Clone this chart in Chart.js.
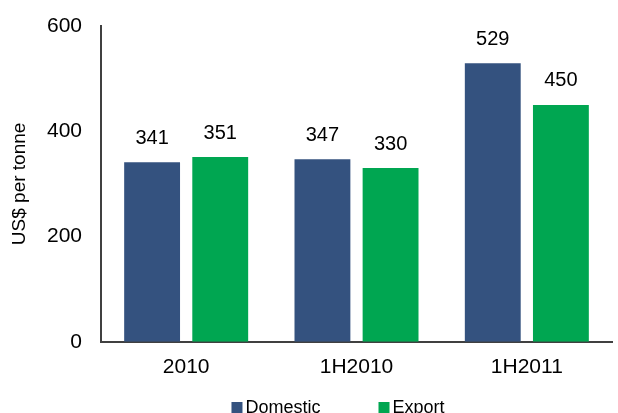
<!DOCTYPE html>
<html>
<head>
<meta charset="utf-8">
<script src="https://cdn.jsdelivr.net/npm/chart.js@4/dist/chart.umd.min.js"></script>
<style>
  html, body { margin: 0; padding: 0; background: #fff; overflow: hidden; }
  #wrap { width: 618px; height: 413px; }
</style>
</head>
<body>
<div id="wrap"><canvas id="precos"></canvas></div>
<script>
// Preço médio do carvão (US$ por tonelada)
const categorias = ['2010', '1H2010', '1H2011'];
const domestico = [341, 347, 529];
const exportacao = [351, 330, 450];
const ticksY = [0, 200, 400, 600];

const fonte = "'Liberation Sans', Arial, sans-serif";
const corEixo = '#404040';

// Rótulos de valor acima das barras
const rotulosValor = {
    id: 'rotulosValor',
    afterDatasetsDraw(chart) {
        const ctx = chart.ctx;
        ctx.save();
        ctx.font = `20px ${fonte}`;
        ctx.fillStyle = '#000';
        ctx.textAlign = 'center';
        ctx.textBaseline = 'middle';
        chart.data.datasets.forEach((ds, i) => {
            chart.getDatasetMeta(i).data.forEach((barra, j) => {
                ctx.fillText(String(ds.data[j]), barra.x, barra.y - 24);
            });
        });
        ctx.restore();
    }
};

// Legenda no rodapé (quadrado + nome da série)
const legendaRodape = {
    id: 'legendaRodape',
    afterDraw(chart) {
        const ctx = chart.ctx;
        const lado = 11, folga = 3, espaco = 58;
        const baseY = chart.height;
        ctx.save();
        ctx.font = `18px ${fonte}`;
        ctx.textBaseline = 'alphabetic';
        ctx.textAlign = 'left';
        const itens = chart.data.datasets.map(ds => ({
            nome: ds.label,
            cor: ds.backgroundColor,
            largura: lado + folga + ctx.measureText(ds.label).width
        }));
        const total = itens.reduce((s, it) => s + it.largura, 0) + espaco * (itens.length - 1);
        let x = 338 - total / 2;
        itens.forEach(it => {
            ctx.fillStyle = it.cor;
            ctx.fillRect(x, baseY - 11, lado, lado);
            ctx.fillStyle = '#000';
            ctx.fillText(it.nome, x + lado + folga, baseY);
            x += it.largura + espaco;
        });
        ctx.restore();
    }
};

new Chart(document.getElementById('precos').getContext('2d'), {
    type: 'bar',
    data: {
        labels: categorias,
        datasets: [
            {
                label: 'Domestic',
                data: domestico,
                backgroundColor: '#34527F',
                categoryPercentage: 0.8,
                barPercentage: 0.82
            },
            {
                label: 'Export',
                data: exportacao,
                backgroundColor: '#00A651',
                categoryPercentage: 0.8,
                barPercentage: 0.82
            }
        ]
    },
    options: {
        responsive: true,
        maintainAspectRatio: false,
        animation: false,
        layout: { padding: { top: 0, right: 6, left: 0, bottom: 20 } },
        plugins: {
            legend: { display: false },
            tooltip: { enabled: false }
        },
        scales: {
            x: {
                grid: { display: false, drawTicks: false },
                border: { color: corEixo, width: 2 },
                ticks: { color: '#000', padding: 13, font: { family: fonte, size: 21 } }
            },
            y: {
                min: 0,
                max: 600,
                afterBuildTicks: (escala) => {
                    escala.ticks = ticksY.map(v => ({ value: v }));
                },
                afterFit: (escala) => {
                    escala.width = 101;
                    escala.paddingTop = 26;
                },
                grid: { display: false, drawTicks: false },
                border: { color: corEixo, width: 2 },
                ticks: { color: '#000', padding: 19, font: { family: fonte, size: 21 } },
                title: {
                    display: true,
                    text: 'US$ per tonne',
                    color: '#000',
                    font: { family: fonte, size: 19 },
                    padding: { top: 8, bottom: 0 }
                }
            }
        }
    },
    plugins: [rotulosValor, legendaRodape]
});
</script>
</body>
</html>
